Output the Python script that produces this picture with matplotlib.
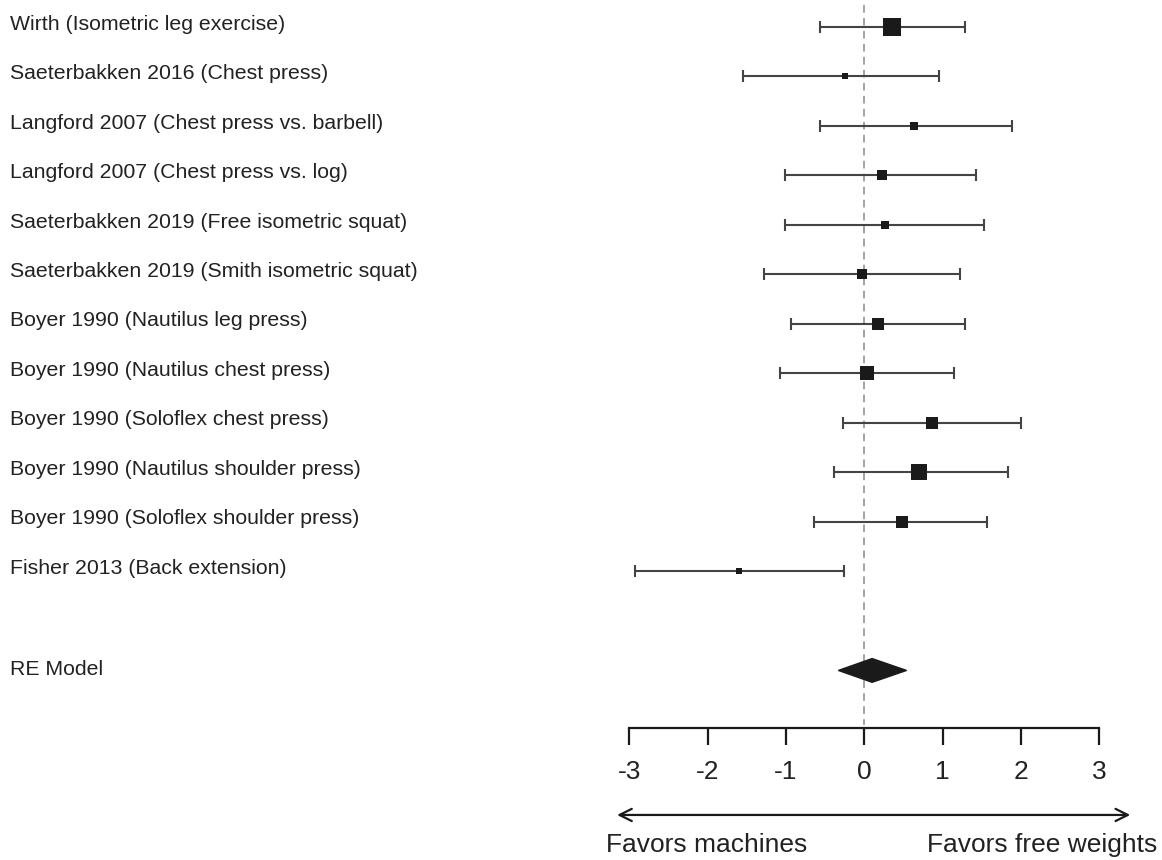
import numpy as np
import matplotlib
matplotlib.use("Agg")
import matplotlib.pyplot as plt

plt.rcParams['font.family'] = ['Liberation Sans', 'DejaVu Sans']

# --- Study data (standardised mean difference, 95% CI) ---
studies = [
    "Wirth (Isometric leg exercise)",
    "Saeterbakken 2016 (Chest press)",
    "Langford 2007 (Chest press vs. barbell)",
    "Langford 2007 (Chest press vs. log)",
    "Saeterbakken 2019 (Free isometric squat)",
    "Saeterbakken 2019 (Smith isometric squat)",
    "Boyer 1990 (Nautilus leg press)",
    "Boyer 1990 (Nautilus chest press)",
    "Boyer 1990 (Soloflex chest press)",
    "Boyer 1990 (Nautilus shoulder press)",
    "Boyer 1990 (Soloflex shoulder press)",
    "Fisher 2013 (Back extension)",
]
effect = [0.36, -0.25, 0.63, 0.23, 0.26, -0.03, 0.18, 0.04, 0.86, 0.70, 0.48, -1.60]
ci_low = [-0.56, -1.55, -0.56, -1.01, -1.01, -1.28, -0.94, -1.07, -0.27, -0.39, -0.64, -2.93]
ci_high = [1.28, 0.95, 1.88, 1.43, 1.53, 1.22, 1.28, 1.15, 2.00, 1.84, 1.57, -0.26]
weights = [18.5, 7.0, 8.6, 10.0, 8.6, 10.0, 13.0, 13.6, 12.0, 16.7, 13.0, 7.0]

# --- Pooled random-effects estimate ---
re_label = "RE Model"
re_effect = 0.10
re_low = -0.33
re_high = 0.54

ticks = [-3, -2, -1, 0, 1, 2, 3]

fig = plt.figure(figsize=(11.62, 8.60), dpi=100)
ax = fig.add_axes([0, 0, 1, 1])
ax.set_xlim(-11.03, 3.80)
ax.set_ylim(17.83, 0.4545)

rows = np.arange(1, len(studies) + 1)
re_row = len(studies) + 2
axis_row = 15.16

# reference line at zero
ax.vlines(0, 0.55, axis_row - 0.05, colors='#8a8a8a', linewidth=1.1,
          linestyles=(0, (5, 3.5)), zorder=1)

# confidence intervals and boxes
ax.errorbar(effect, rows, xerr=[np.array(effect) - np.array(ci_low), np.array(ci_high) - np.array(effect)],
            fmt='none', ecolor='#444444', elinewidth=1.5, capsize=4.3, capthick=1.5, zorder=2)
for x, y, w in zip(effect, rows, weights):
    ax.plot(x, y, 's', color='#1a1a1a', markersize=w / 1.389, markeredgewidth=0, zorder=3)

for y, name in zip(rows, studies):
    ax.text(-10.90, y - 0.06, name, ha='left', va='center', fontsize=15.35, color='#222222')

# summary diamond
ax.fill([re_low, re_effect, re_high, re_effect], [re_row, re_row - 0.24, re_row, re_row + 0.24],
        color='#1a1a1a', zorder=3)
ax.text(-10.90, re_row - 0.02, re_label, ha='left', va='center', fontsize=15.35, color='#222222')

# x axis
for side in ['left', 'right', 'top']:
    ax.spines[side].set_visible(False)
ax.spines['bottom'].set_position(('data', axis_row))
ax.spines['bottom'].set_bounds(ticks[0], ticks[-1])
ax.spines['bottom'].set_linewidth(1.6)
ax.spines['bottom'].set_color('#1a1a1a')
ax.set_xticks(ticks)
ax.set_xticklabels([str(t) for t in ticks])
ax.tick_params(axis='x', direction='out', length=12, width=1.6, color='#1a1a1a',
               labelsize=19, pad=11, labelcolor='#222222')
ax.set_yticks([])

# direction arrow and captions
ax.annotate('', xy=(-3.19, 16.92), xytext=(3.43, 16.92),
            arrowprops=dict(arrowstyle='<->', lw=1.6, color='#1a1a1a', mutation_scale=22))
ax.text(-3.29, 17.52, "Favors machines", ha='left', va='center', fontsize=19, color='#222222')
ax.text(3.74, 17.52, "Favors free weights", ha='right', va='center', fontsize=19, color='#222222')

fig.savefig("out.png", dpi=100)
